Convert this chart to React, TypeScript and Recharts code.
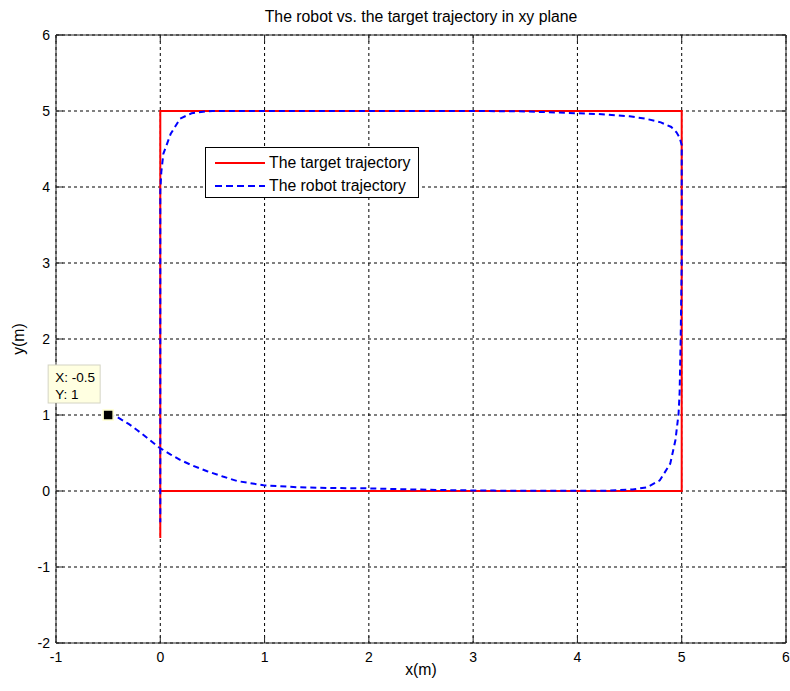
import { ComposedChart, Line, XAxis, YAxis, CartesianGrid, Legend, ReferenceDot, ReferenceLine } from 'recharts';

// axis ticks
const xTicks = [-1, 0, 1, 2, 3, 4, 5, 6];
const yTicks = [-2, -1, 0, 1, 2, 3, 4, 5, 6];

// target trajectory (red)
const targetX = [0, 0, 5, 5, 0, 0];
const targetY = [-0.62, 0, 0, 5, 5, 0];

// robot trajectory (blue dashed)
const robotX = [
  -0.5, -0.41, -0.3, -0.22, -0.1, -0.02, 0.1, 0.19, 0.3, 0.45, 0.6, 0.74, 0.99, 1.31, 1.6, 1.98,
  2.43, 2.8, 3.2, 3.6, 4.0, 4.3, 4.53, 4.67, 4.79, 4.89, 4.94, 4.97, 4.98, 4.99, 5.0, 5.0, 5.0,
  5.0, 4.98, 4.95, 4.9, 4.8, 4.65, 4.5, 4.2, 4.0, 3.7, 3.5, 3.0, 2.0, 1.0, 0.5, 0.41, 0.3, 0.19,
  0.1, 0.06, 0.03, 0.01, 0.0, 0.0, 0.0, 0.0, 0.0, 0.0,
];
const robotY = [
  1.0, 0.97, 0.88, 0.8, 0.67, 0.58, 0.48, 0.41, 0.34, 0.26, 0.19, 0.13, 0.075, 0.05, 0.04, 0.035,
  0.02, 0.01, 0.005, 0.003, 0.002, 0.005, 0.02, 0.05, 0.14, 0.36, 0.67, 1.02, 1.3, 2.0, 3.0, 4.0, 4.4,
  4.55, 4.65, 4.72, 4.79, 4.85, 4.9, 4.93, 4.96, 4.97, 4.985, 4.995, 5.0, 5.0, 5.0, 5.0, 4.99, 4.97, 4.9,
  4.7, 4.55, 4.44, 4.2, 3.95, 3.5, 2.0, 1.0, 0.0, -0.41,
];

const tipX = -0.5;
const tipY = 1;

const targetData = targetX.map((x, i) => ({ x, y: targetY[i] }));
const robotData = robotX.map((x, i) => ({ x, y: robotY[i] }));

const font = '"Liberation Sans", Arial, sans-serif';
const axisColor = '#262626';
const TICK_LEN = 7;
const PLOT_TOP = 35;
const PLOT_RIGHT = 786;

const XTick = (props: any) => {
  const { x, y, payload } = props;
  const axisY = y - 9;
  return (
    <g>
      <line x1={x} x2={x} y1={axisY} y2={axisY - TICK_LEN} stroke={axisColor} />
      <line x1={x} x2={x} y1={PLOT_TOP} y2={PLOT_TOP + TICK_LEN} stroke={axisColor} />
      <text x={x} y={y} dy="0.71em" textAnchor="middle" fontSize={14} fontFamily={font} fill="#000">
        {payload.value}
      </text>
    </g>
  );
};

const YTick = (props: any) => {
  const { x, y, payload } = props;
  const axisX = x + 6;
  return (
    <g>
      <line x1={axisX} x2={axisX + TICK_LEN} y1={y} y2={y} stroke={axisColor} />
      <line x1={PLOT_RIGHT} x2={PLOT_RIGHT - TICK_LEN} y1={y} y2={y} stroke={axisColor} />
      <text x={x} y={y} dy="0.355em" textAnchor="end" fontSize={14} fontFamily={font} fill="#000">
        {payload.value}
      </text>
    </g>
  );
};

const DataTip = (props: any) => {
  const { cx, cy } = props;
  return (
    <g>
      <rect x={cx - 60} y={cy - 50} width={52} height={38} fill="#ffffe1" stroke="#d4d4c4" />
      <text x={cx - 53} y={cy - 33} fontSize={13.5} fontFamily={font} fill="#000">X: {tipX}</text>
      <text x={cx - 53} y={cy - 16} fontSize={13.5} fontFamily={font} fill="#000">Y: {tipY}</text>
      <rect x={cx - 5} y={cy - 5} width={10} height={10} fill="#000" stroke="#ffffd0" strokeWidth={1.5} />
    </g>
  );
};

const LegendBox = () => (
  <div
    style={{
      width: 214,
      height: 51,
      boxSizing: 'border-box',
      border: '1px solid #000',
      background: '#fff',
      padding: '3px 0 0 9px',
      fontFamily: font,
      fontSize: 15.8,
      color: '#000',
    }}
  >
    {[
      { name: 'The target trajectory', color: '#ff0000', dash: undefined },
      { name: 'The robot trajectory', color: '#0000ff', dash: '7 4' },
    ].map((item) => (
      <div key={item.name} style={{ display: 'flex', alignItems: 'center', height: 23 }}>
        <svg width={50} height={4} style={{ marginRight: 4 }}>
          <line x1={0} x2={50} y1={2} y2={2} stroke={item.color} strokeWidth={2} strokeDasharray={item.dash} />
        </svg>
        <span>{item.name}</span>
      </div>
    ))}
  </div>
);

export default function App() {
  return (
    <div style={{ position: 'absolute', left: 0, top: 0, width: 790, height: 691, background: '#fff' }}>
      <div
        style={{
          position: 'absolute',
          left: 56,
          width: 730,
          top: 8,
          textAlign: 'center',
          fontFamily: font,
          fontSize: 15.8,
          lineHeight: '18px',
          color: '#000',
        }}
      >
        The robot vs. the target trajectory in xy plane
      </div>
      <ComposedChart width={790} height={691} margin={{ top: 35, right: 4, bottom: 0, left: 0 }}>
        <CartesianGrid stroke="#000" strokeDasharray="3 3" />
        <XAxis
          dataKey="x"
          type="number"
          domain={[-1, 6]}
          ticks={xTicks}
          height={48}
          tickSize={0}
          tickMargin={9}
          tickLine={false}
          tick={<XTick />}
          stroke={axisColor}
          allowDataOverflow
          label={{ value: 'x(m)', position: 'insideBottom', offset: 16, fontSize: 15.8, fontFamily: font, fill: '#000' }}
        />
        <YAxis
          type="number"
          domain={[-2, 6]}
          ticks={yTicks}
          width={56}
          tickSize={0}
          tickMargin={6}
          tickLine={false}
          tick={<YTick />}
          stroke={axisColor}
          allowDataOverflow
          label={{
            value: 'y(m)',
            angle: -90,
            position: 'insideLeft',
            offset: 18,
            fontSize: 15.8,
            fontFamily: font,
            fill: '#000',
            style: { textAnchor: 'middle' },
          }}
        />
        {/* box around the plot (top and right edges) */}
        <ReferenceLine y={6} stroke={axisColor} strokeWidth={1} ifOverflow="visible" />
        <ReferenceLine x={6} stroke={axisColor} strokeWidth={1} ifOverflow="visible" />
        <Line
          data={targetData}
          dataKey="y"
          type="linear"
          stroke="#ff0000"
          strokeWidth={2}
          dot={false}
          activeDot={false}
          isAnimationActive={false}
        />
        <Line
          data={robotData}
          dataKey="y"
          type="linear"
          stroke="#0000ff"
          strokeWidth={2}
          strokeDasharray="6 4"
          dot={false}
          activeDot={false}
          isAnimationActive={false}
        />
        <ReferenceDot x={tipX} y={tipY} r={5} shape={<DataTip />} ifOverflow="visible" />
        <Legend
          layout="horizontal"
          verticalAlign="middle"
          align="center"
          wrapperStyle={{ left: 205, top: 147, width: 214, height: 51 }}
          content={() => <LegendBox />}
        />
      </ComposedChart>
    </div>
  );
}
